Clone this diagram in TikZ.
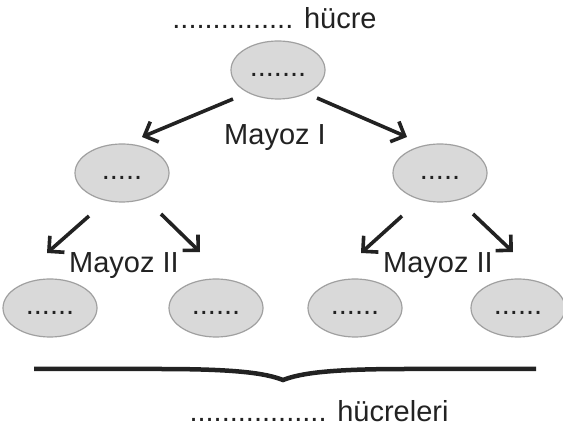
\documentclass[tikz,border=0pt]{standalone}
\usepackage{fontspec}
\setmainfont{Liberation Sans}
\usetikzlibrary{shapes.geometric,arrows.meta}
\definecolor{cellfill}{HTML}{D9D9D9}
\definecolor{celledge}{HTML}{A0A0A0}
\definecolor{ink}{HTML}{222222}
\begin{document}
\begin{tikzpicture}[x=1pt,y=-1pt,
  cell/.style={ellipse,draw=celledge,fill=cellfill,line width=1.2pt,minimum width=94pt,minimum height=58pt,inner sep=0pt,font=\fontsize{29}{34}\selectfont,text=ink},
  lbl/.style={anchor=base,inner sep=0pt,font=\fontsize{29}{34}\selectfont,text=ink},
  arr/.style={draw=ink,line width=3.6pt,-{Straight Barb[length=11pt,width=22pt,line width=3.6pt]}},
  bracepath/.style={draw=ink,line width=4.5pt}]
\useasboundingbox (0,0) rectangle (563,430);

\node[lbl] (title) at (274.5,29) {............... hücre};
\node[cell] (top) at (278,70) {\vphantom{Ay}.......};

\node[cell] (ml) at (122,173) {\vphantom{Ay}.....};
\node[cell] (mr) at (440,173) {\vphantom{Ay}.....};

\node[cell] (b1) at (50,308) {\vphantom{Ay}......};
\node[cell] (b2) at (216,308) {\vphantom{Ay}......};
\node[cell] (b3) at (355,308) {\vphantom{Ay}......};
\node[cell] (b4) at (518,308) {\vphantom{Ay}......};

\node[lbl] (m1) at (275,145) {Mayoz I};
\node[lbl] (m2l) at (124,273) {Mayoz II};
\node[lbl] (m2r) at (438,273) {Mayoz II};

\draw[arr] ([shift={(-45,29)}]top.center) -- ([shift={(20,-36)}]ml.center);
\draw[arr] ([shift={(39,28)}]top.center) -- ([shift={(-33,-36)}]mr.center);
\draw[arr] ([shift={(-33,43)}]ml.center) -- ([shift={(-3,-55)}]b1.center);
\draw[arr] ([shift={(39,41)}]ml.center) -- ([shift={(-16,-56)}]b2.center);
\draw[arr] ([shift={(-38,43)}]mr.center) -- ([shift={(6,-55)}]b3.center);
\draw[arr] ([shift={(33,41)}]mr.center) -- ([shift={(-5,-56)}]b4.center);

\draw[bracepath] (34,369) -- (160,369) .. controls (235,369) and (265,373) .. (283,380) .. controls (301,373) and (331,369) .. (406,369) -- (536,369);

\node[lbl] (bottom) at (319,422) {................. hücreleri};
\end{tikzpicture}
\end{document}
